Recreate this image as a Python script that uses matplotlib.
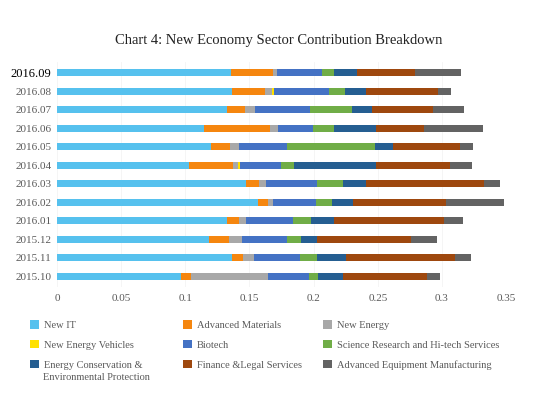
import numpy as np
import matplotlib.pyplot as plt

plt.rcParams['font.family'] = ['Liberation Serif', 'DejaVu Serif']

months = ['2016.09', '2016.08', '2016.07', '2016.06', '2016.05', '2016.04',
          '2016.03', '2016.02', '2016.01', '2015.12', '2015.11', '2015.10']

sectors = ['New IT', 'Advanced Materials', 'New Energy', 'New Energy Vehicles',
           'Biotech', 'Science Research and Hi-tech Services',
           'Energy Conservation &',
           'Finance &Legal Services', 'Advanced Equipment Manufacturing']

new_it     = [0.1357, 0.1367, 0.1326, 0.1146, 0.1201, 0.1026, 0.1474, 0.1563, 0.1326, 0.1185, 0.1365, 0.0969]
adv_mat    = [0.0325, 0.0253, 0.0138, 0.0518, 0.0148, 0.0344, 0.0102, 0.0081, 0.0096, 0.0154, 0.0083, 0.0076]
new_energy = [0.0030, 0.0055, 0.0081, 0.0057, 0.0073, 0.0042, 0.0055, 0.0042, 0.0055, 0.0102, 0.0086, 0.0596]
nev        = [0.0000, 0.0013, 0.0000, 0.0000, 0.0000, 0.0015, 0.0000, 0.0000, 0.0000, 0.0000, 0.0000, 0.0000]
biotech    = [0.0352, 0.0430, 0.0430, 0.0273, 0.0372, 0.0319, 0.0393, 0.0331, 0.0362, 0.0349, 0.0357, 0.0320]
sci_res    = [0.0094, 0.0128, 0.0323, 0.0167, 0.0685, 0.0099, 0.0203, 0.0128, 0.0143, 0.0112, 0.0133, 0.0070]
energy_con = [0.0177, 0.0161, 0.0156, 0.0328, 0.0141, 0.0645, 0.0182, 0.0164, 0.0180, 0.0128, 0.0229, 0.0195]
finance    = [0.0458, 0.0560, 0.0477, 0.0372, 0.0519, 0.0570, 0.0922, 0.0719, 0.0852, 0.0727, 0.0851, 0.0654]
adv_equip  = [0.0352, 0.0104, 0.0240, 0.0456, 0.0104, 0.0177, 0.0125, 0.0456, 0.0148, 0.0208, 0.0120, 0.0107]

data = [new_it, adv_mat, new_energy, nev, biotech, sci_res, energy_con, finance, adv_equip]
colors = ['#56C1EE', '#F5860F', '#A8A8A8', '#FFE100', '#4472C4',
          '#70AD47', '#255E91', '#9E480E', '#636363']

fig = plt.figure(figsize=(5.58, 3.99), dpi=100)
ax = fig.add_axes([0.102, 0.28, 0.805, 0.565])

ind = np.arange(len(months))
left = np.zeros(len(months))
bars = []
for vals, c, name in zip(data, colors, sectors):
    b = ax.barh(ind, vals, 0.38, left=left, color=c, label=name)
    bars.append(b)
    left += np.array(vals)

ax.set_ylim(len(months) - 0.4, -0.6)
ax.set_xlim(0, 0.35)
ax.set_xticks(np.arange(0, 0.351, 0.05))
ax.set_xticklabels(['0', '0.05', '0.1', '0.15', '0.2', '0.25', '0.3', '0.35'])
ax.set_yticks(ind)
ax.set_yticklabels(months)
ax.tick_params(axis='both', length=0, colors='#595959', labelsize=8)
ax.tick_params(axis='y', pad=4)
ax.tick_params(axis='x', pad=5)
ytl = ax.get_yticklabels()
ytl[0].set_color('black')
ytl[0].set_fontsize(9)
for s in ax.spines.values():
    s.set_visible(False)
ax.xaxis.grid(True, color='#f4f4f4', linewidth=0.6)
ax.set_axisbelow(True)

fig.text(0.5, 0.89, 'Chart 4: New Economy Sector Contribution Breakdown',
         ha='center', fontsize=10.5, color='#222222')

# legend laid out as three fixed columns, like the original
col_x = [30, 183, 323]
for k, x in enumerate(col_x):
    idx = [k, k + 3, k + 6]
    fig.legend([bars[i] for i in idx], [sectors[i] for i in idx],
               loc='upper left', bbox_to_anchor=(x / 558, 0.198),
               frameon=False, fontsize=7.5, handlelength=0.9, handleheight=0.9,
               handletextpad=0.45, labelspacing=0.95, borderpad=0,
               borderaxespad=0, labelcolor='#595959')
fig.text(43 / 558, 1 - 378 / 399, 'Environmental Protection', va='center',
         fontsize=7.5, color='#595959')

fig.savefig('out.png', dpi=100)
